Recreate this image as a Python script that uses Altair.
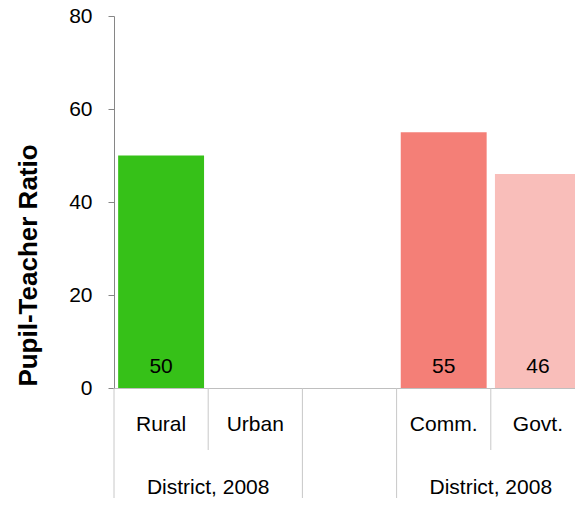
import altair as alt
import pandas as pd

# ---- data ----
categories = ["Rural", "Urban", " ", "Comm.", "Govt."]
values = [50, None, None, 55, 46]
bar_colors = ["#36C118", None, None, "#F47F77", "#F9BEBA"]
group_labels = ["District, 2008", "District, 2008"]
group_anchor = ["Rural", "Comm."]          # label centred on the right edge of this slot
full_separators = ["Rural", " ", "Comm."]  # separators spanning both label rows
half_separators = ["Urban", "Govt."]       # separators spanning only the first row
y_ticks = [0, 20, 40, 60, 80]

FONT = "Liberation Sans"
FS = 21

bars_df = pd.DataFrame({"cat": categories, "value": values, "color": bar_colors}).dropna()
bars_df["label"] = bars_df["value"].astype(int).astype(str)
groups_df = pd.DataFrame({"cat": group_anchor, "label": group_labels})
full_df = pd.DataFrame({"cat": full_separators})
half_df = pd.DataFrame({"cat": half_separators})

x_scale = alt.Scale(domain=categories, paddingInner=0, paddingOuter=0)
y_scale = alt.Scale(domain=[0, 80], nice=False)

x_axis = alt.Axis(
    title=None, labelFontSize=FS, labelColor="black", labelFont=FONT,
    labelAngle=0, labelBaseline="top", labelPadding=25,
    ticks=False, tickSize=0, domainColor="#BFBFBF", domainWidth=1, grid=False,
)
y_axis = alt.Axis(
    values=y_ticks, grid=False, labelFontSize=FS, labelColor="black", labelFont=FONT,
    labelPadding=16, tickSize=6, tickColor="#868686", domainColor="#868686",
    title="Pupil-Teacher Ratio", titleFontSize=26, titleFontWeight="bold",
    titleFont=FONT, titleColor="black", titleAngle=270, titleAlign="center",
    titleBaseline="alphabetic", titleX=-78, titleY=249,
)

bars = alt.Chart(bars_df).mark_bar(width=alt.RelativeBandSize(0.912)).encode(
    x=alt.X("cat:N", scale=x_scale, axis=x_axis, sort=categories),
    y=alt.Y("value:Q", scale=y_scale, axis=y_axis),
    color=alt.Color("color:N", scale=None),
)

bar_labels = alt.Chart(bars_df).mark_text(
    fontSize=FS, font=FONT, color="black", baseline="middle"
).encode(
    x=alt.X("cat:N", scale=x_scale, axis=x_axis, sort=categories),
    y=alt.value(351),
    text="label:N",
)

full_rules = alt.Chart(full_df).mark_rule(color="#C8C8C8", strokeWidth=1).encode(
    x=alt.X("cat:N", scale=x_scale, axis=x_axis, bandPosition=0, sort=categories),
    y=alt.value(372),
    y2=alt.value(492),
)

half_rules = alt.Chart(half_df).mark_rule(color="#C8C8C8", strokeWidth=1).encode(
    x=alt.X("cat:N", scale=x_scale, axis=x_axis, bandPosition=0, sort=categories),
    y=alt.value(372),
    y2=alt.value(434),
)

group_text = alt.Chart(groups_df).mark_text(
    fontSize=FS, font=FONT, color="black", baseline="middle"
).encode(
    x=alt.X("cat:N", scale=x_scale, axis=x_axis, bandPosition=1, sort=categories),
    y=alt.value(472),
    text="label:N",
)

chart = alt.layer(full_rules, half_rules, bars, bar_labels, group_text).properties(
    width=471,
    height=372,
    autosize=alt.AutoSizeParams(type="none"),
    padding={"left": 106, "top": 8, "right": -10, "bottom": 110},
).configure_view(stroke=None)

chart.save("out.html", embed_options={"renderer": "svg", "actions": False})
